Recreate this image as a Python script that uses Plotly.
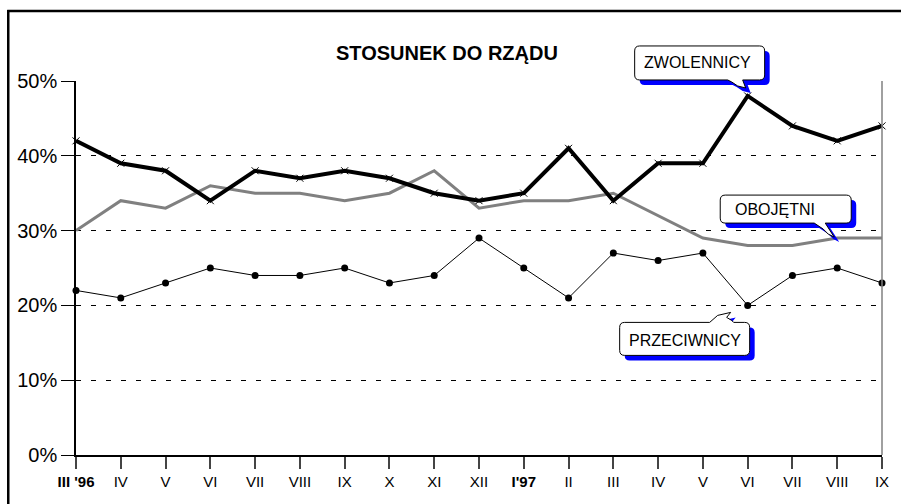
import plotly.graph_objects as go

categories = ["III '96", "IV", "V", "VI", "VII", "VIII", "IX", "X", "XI", "XII",
              "I'97", "II", "III", "IV", "V", "VI", "VII", "VIII", "IX"]
bold_labels = {0, 10}
zwolennicy = [42, 39, 38, 34, 38, 37, 38, 37, 35, 34, 35, 41, 34, 39, 39, 48, 44, 42, 44]
obojetni = [30, 34, 33, 36, 35, 35, 34, 35, 38, 33, 34, 34, 35, 32, 29, 28, 28, 29, 29]
przeciwnicy = [22, 21, 23, 25, 24, 24, 25, 23, 24, 29, 25, 21, 27, 26, 27, 20, 24, 25, 23]
y_ticks = [0, 10, 20, 30, 40, 50]
y_ticktext = ["0%", "10%", "20%", "30%", "40%", "50%"]
title_text = "STOSUNEK DO RZĄDU"

FONT = "Arial, 'Liberation Sans', sans-serif"
W, H = 901, 504
ML, MR, MT, MB = 76, 16, 81, 49
PW, PH = W - ML - MR, H - MT - MB
X_MAX = len(categories) - 1
Y_MAX = 50

x = list(range(len(categories)))
ticktext = [f"<b>{c}</b>" if i in bold_labels else c for i, c in enumerate(categories)]

fig = go.Figure()
fig.add_trace(go.Scatter(x=x, y=przeciwnicy, mode="lines+markers", name="PRZECIWNICY",
                         line=dict(color="black", width=1),
                         marker=dict(symbol="circle", size=7, color="black"),
                         cliponaxis=False))
fig.add_trace(go.Scatter(x=x, y=obojetni, mode="lines", name="OBOJĘTNI",
                         line=dict(color="#808080", width=3), cliponaxis=False))
fig.add_trace(go.Scatter(x=x, y=zwolennicy, mode="lines+markers", name="ZWOLENNICY",
                         line=dict(color="black", width=4),
                         marker=dict(symbol="x-thin", size=7, color="black",
                                     line=dict(color="black", width=1)),
                         cliponaxis=False))


def px2paper_x(px):
    return (px - ML) / PW


def px2paper_y(py):
    return (H - MB - py) / PH


shapes = []
# outer frame (top and left)
shapes.append(dict(type="line", xref="paper", yref="paper",
                   x0=px2paper_x(7), x1=px2paper_x(905), y0=px2paper_y(11), y1=px2paper_y(11),
                   line=dict(color="black", width=2.5)))
shapes.append(dict(type="line", xref="paper", yref="paper",
                   x0=px2paper_x(8), x1=px2paper_x(8), y0=px2paper_y(10), y1=px2paper_y(510),
                   line=dict(color="black", width=2.5)))
# right border of plot area
shapes.append(dict(type="line", xref="paper", yref="paper",
                   x0=1, x1=1, y0=0, y1=1, line=dict(color="#808080", width=1.5)))


def rrect(l, r, t, b, rad=5, tail=None):
    # pixel coords relative to anchor, y positive up; t > b
    p = f"M{l+rad},{t} "
    if tail and tail[0] == "top":
        _, a, c, tip = tail
        p += f"L{a[0]},{t} " + " ".join(f"L{q[0]},{q[1]}" for q in tip) + f" L{c[0]},{t} "
    p += f"L{r-rad},{t} Q{r},{t} {r},{t-rad} L{r},{b+rad} Q{r},{b} {r-rad},{b} "
    if tail and tail[0] == "bottom":
        _, a, c, tip = tail
        p += f"L{c[0]},{b} " + " ".join(f"L{q[0]},{q[1]}" for q in tip) + f" L{a[0]},{b} "
    p += f"L{l+rad},{b} Q{l},{b} {l},{b+rad} L{l},{t-rad} Q{l},{t} {l+rad},{t} Z"
    return p


def shifted(tail, dx, dy):
    if tail is None:
        return None
    side, a, c, tip = tail
    return (side, (a[0] + dx, a[1] + dy), (c[0] + dx, c[1] + dy),
            [(q[0] + dx, q[1] + dy) for q in tip])


callouts = [
    # text, anchor index, anchor series, box (l, r, t, b), tail, text shift
    ("ZWOLENNICY", 15, zwolennicy, (-113, 17, 50, 16),
     ("bottom", (-20, 0), (-5, 0), [(-2, 8), (-10, 10), (-16, 14)]), (-50, 33)),
    ("OBOJĘTNI", 17, obojetni, (-117, 14, 43, 15),
     ("bottom", (-23, 0), (-12, 0), [(-3, 1), (-9, 4), (-14, 9)]), (-62, 29)),
    ("PRZECIWNICY", 15, przeciwnicy, (-128, 2, -17, -50),
     ("top", (-38, 0), (-14, 0), [(-30, -10), (-17, -7), (-21, -12), (-16, -15)]), (-63, -35)),
]
annotations = []
for text, idx, series, (l, r, t, b), tail, (tx, ty) in callouts:
    ax_p = idx / X_MAX
    ay_p = series[idx] / Y_MAX
    d = 5
    sh_tail = shifted(tail, d, -d)
    shapes.append(dict(type="path", xref="paper", yref="paper", xsizemode="pixel", ysizemode="pixel",
                       xanchor=ax_p, yanchor=ay_p,
                       path=rrect(l + d, r + d, t - d, b - d, tail=sh_tail),
                       fillcolor="#0000FF", line=dict(width=0)))
    shapes.append(dict(type="path", xref="paper", yref="paper", xsizemode="pixel", ysizemode="pixel",
                       xanchor=ax_p, yanchor=ay_p,
                       path=rrect(l, r, t, b, tail=tail),
                       fillcolor="white", line=dict(color="black", width=1)))
    annotations.append(dict(x=idx, y=series[idx], xref="x", yref="y", text=text,
                            showarrow=False, xshift=tx, yshift=ty,
                            font=dict(family=FONT, size=16, color="black")))

annotations.append(dict(x=px2paper_x(448), y=px2paper_y(40), xref="paper", yref="paper",
                        text=f"<b>{title_text}</b>", showarrow=False,
                        font=dict(family=FONT, size=20, color="black")))

fig.update_layout(
    width=W, height=H,
    margin=dict(l=ML, r=MR, t=MT, b=MB),
    paper_bgcolor="white", plot_bgcolor="white",
    showlegend=False,
    hovermode=False,
    shapes=shapes,
    annotations=annotations,
    font=dict(family=FONT, color="black"),
    xaxis=dict(range=[0, X_MAX], tickvals=x, ticktext=ticktext,
               showgrid=False, zeroline=False, showline=True, linecolor="black", linewidth=1.5,
               ticks="outside", ticklen=12, tickcolor="#444", tickwidth=1.5,
               tickfont=dict(family=FONT, size=15, color="black")),
    yaxis=dict(range=[0, Y_MAX], tickvals=y_ticks, ticktext=y_ticktext,
               showgrid=True, gridcolor="black", gridwidth=1, griddash="5px,10px",
               zeroline=False, showline=True, linecolor="black", linewidth=1.5,
               ticks="outside", ticklen=13, tickcolor="black", tickwidth=1,
               tickfont=dict(family=FONT, size=20, color="black")),
)

fig.write_html("out.html", config={"displayModeBar": False},
               post_script="document.body.style.margin='0px';")
